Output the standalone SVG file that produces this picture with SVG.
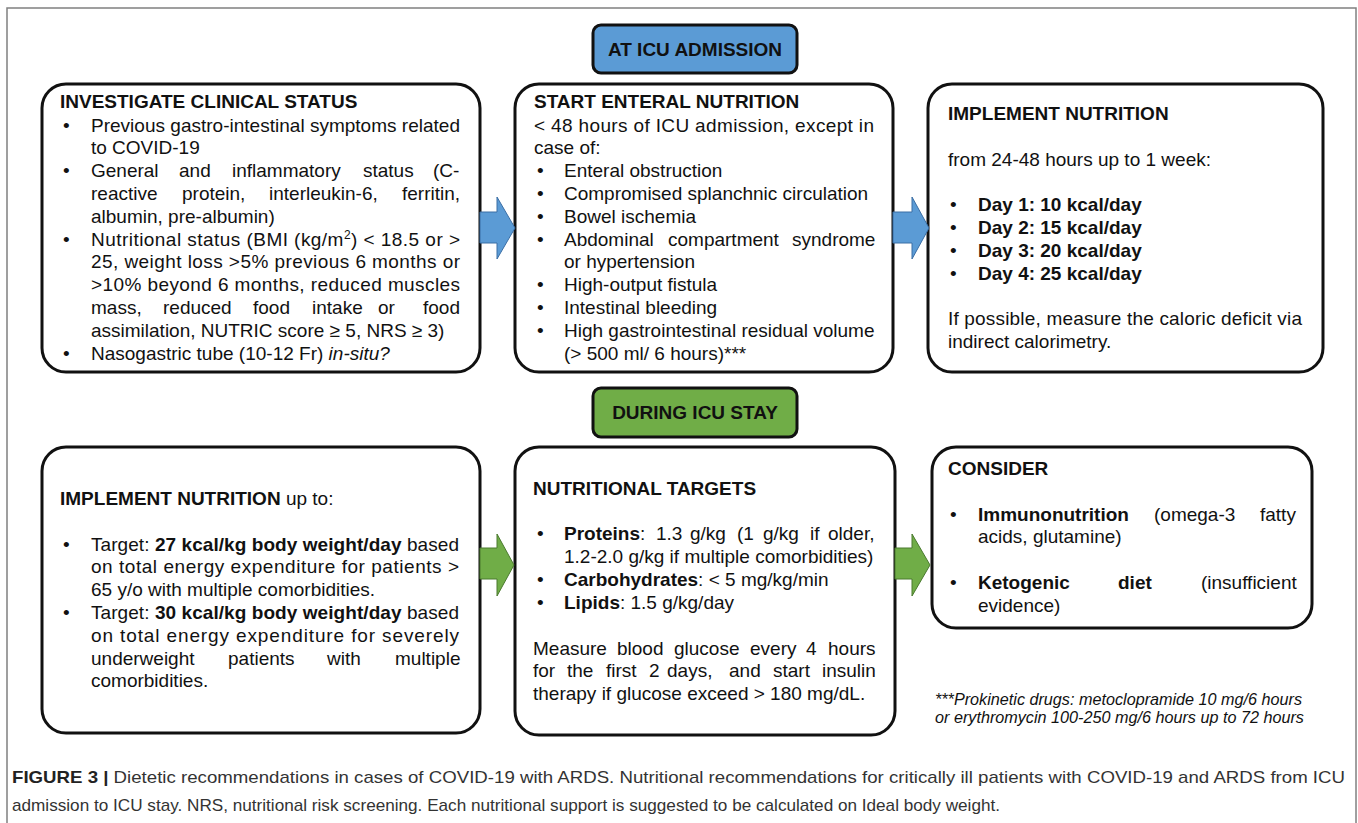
<svg xmlns="http://www.w3.org/2000/svg" width="1358" height="823" viewBox="0 0 1358 823">
<style>
text{font-family:"Liberation Sans",Arial,sans-serif;font-size:19px;fill:#111}
.b{font-weight:bold}
.i{font-style:italic}
.box{fill:#fff;stroke:#111;stroke-width:3}
.tb{fill:#5B9BD5;stroke:#111;stroke-width:3}
.tg{fill:#70AD47;stroke:#111;stroke-width:3}
.ab{fill:#5B9BD5;stroke:#3A6EA5;stroke-width:1}
.ag{fill:#70AD47;stroke:#4A7A2E;stroke-width:1}
.fn{font-size:16.2px;font-style:italic}
.cap{font-size:17px;fill:#333}
</style>
<rect x="7" y="8" width="1349" height="840" fill="none" stroke="#808080" stroke-width="1.5"/>

<g id="title-admission">
<rect class="tb" x="593" y="25" width="204" height="48" rx="8"/>
<text class="b" x="695" y="56" text-anchor="middle">AT ICU ADMISSION</text>
</g>

<g id="box-investigate">
<rect class="box" x="42" y="84" width="438" height="288" rx="24"/>
<text class="b" x="60" y="108">INVESTIGATE CLINICAL STATUS</text>
<text x="63" y="131.5">•</text>
<text x="91" y="131.5" textLength="369" lengthAdjust="spacing">Previous gastro-intestinal symptoms related</text>
<text x="91" y="154.3">to COVID-19</text>
<text x="63" y="177.1">•</text>
<text y="177.1"><tspan x="91">General</tspan><tspan x="179">and</tspan><tspan x="232">inflammatory</tspan><tspan x="363">status</tspan><tspan x="433">(C-</tspan></text>
<text y="199.9"><tspan x="91">reactive</tspan><tspan x="182">protein,</tspan><tspan x="269">interleukin-6,</tspan><tspan x="402">ferritin,</tspan></text>
<text x="91" y="222.7">albumin, pre-albumin)</text>
<text x="63" y="245.5">•</text>
<text x="91" y="245.5" textLength="369" lengthAdjust="spacing">Nutritional status (BMI (kg/m<tspan font-size="12" baseline-shift="super">2</tspan>) &lt; 18.5 or &gt;</text>
<text x="91" y="268.3" textLength="369" lengthAdjust="spacing">25, weight loss &gt;5% previous 6 months or</text>
<text x="91" y="291.1" textLength="369" lengthAdjust="spacing">&gt;10% beyond 6 months, reduced muscles</text>
<text y="313.9"><tspan x="91">mass,</tspan><tspan x="163">reduced</tspan><tspan x="253">food</tspan><tspan x="312">intake</tspan><tspan x="378">or</tspan><tspan x="423">food</tspan></text>
<text x="91" y="336.7">assimilation, NUTRIC score ≥ 5, NRS ≥ 3)</text>
<text x="63" y="359.5">•</text>
<text x="91" y="359.5">Nasogastric tube (10-12 Fr) <tspan class="i">in-situ?</tspan></text>
</g>

<g id="box-enteral">
<rect class="box" x="515" y="84" width="378" height="288" rx="24"/>
<text class="b" x="534" y="108">START ENTERAL NUTRITION</text>
<text x="534" y="131.5" textLength="340" lengthAdjust="spacing">&lt; 48 hours of ICU admission, except in</text>
<text x="534" y="154.3">case of:</text>
<text x="537" y="177.1">•</text><text x="564" y="177.1">Enteral obstruction</text>
<text x="537" y="199.9">•</text><text x="564" y="199.9">Compromised splanchnic circulation</text>
<text x="537" y="222.7">•</text><text x="564" y="222.7">Bowel ischemia</text>
<text x="537" y="245.5">•</text><text y="245.5"><tspan x="564">Abdominal</tspan><tspan x="668">compartment</tspan><tspan x="792">syndrome</tspan></text>
<text x="564" y="268.3">or hypertension</text>
<text x="537" y="291.1">•</text><text x="564" y="291.1">High-output fistula</text>
<text x="537" y="313.9">•</text><text x="564" y="313.9">Intestinal bleeding</text>
<text x="537" y="336.7">•</text><text x="564" y="336.7">High gastrointestinal residual volume</text>
<text x="564" y="359.5">(&gt; 500 ml/ 6 hours)***</text>
</g>

<g id="box-implement-1">
<rect class="box" x="928" y="84" width="395" height="288" rx="24"/>
<text class="b" x="948" y="120">IMPLEMENT NUTRITION</text>
<text x="948" y="165.6">from 24-48 hours up to 1 week:</text>
<text x="950" y="211.2">•</text><text class="b" x="978" y="211.2">Day 1: 10 kcal/day</text>
<text x="950" y="234">•</text><text class="b" x="978" y="234">Day 2: 15 kcal/day</text>
<text x="950" y="256.8">•</text><text class="b" x="978" y="256.8">Day 3: 20 kcal/day</text>
<text x="950" y="279.6">•</text><text class="b" x="978" y="279.6">Day 4: 25 kcal/day</text>
<text x="948" y="325.2" textLength="354" lengthAdjust="spacing">If possible, measure the caloric deficit via</text>
<text x="948" y="348">indirect calorimetry.</text>
</g>

<g id="title-stay">
<rect class="tg" x="593" y="388" width="204" height="49" rx="8"/>
<text class="b" x="695" y="419" text-anchor="middle">DURING ICU STAY</text>
</g>

<g id="box-implement-2">
<rect class="box" x="42" y="447" width="438" height="286" rx="24"/>
<text x="60" y="505"><tspan class="b">IMPLEMENT NUTRITION</tspan> up to:</text>
<text x="63" y="550.6">•</text>
<text x="91" y="550.6" textLength="368" lengthAdjust="spacing">Target: <tspan class="b">27 kcal/kg body weight/day</tspan> based</text>
<text x="91" y="573.4" textLength="368" lengthAdjust="spacing">on total energy expenditure for patients &gt;</text>
<text x="91" y="596.2">65 y/o with multiple comorbidities.</text>
<text x="63" y="619">•</text>
<text x="91" y="619" textLength="368" lengthAdjust="spacing">Target: <tspan class="b">30 kcal/kg body weight/day</tspan> based</text>
<text x="91" y="641.8" textLength="368" lengthAdjust="spacing">on total energy expenditure for severely</text>
<text y="664.6"><tspan x="91">underweight</tspan><tspan x="228">patients</tspan><tspan x="327">with</tspan><tspan x="395">multiple</tspan></text>
<text x="91" y="687.4">comorbidities.</text>
</g>

<g id="box-targets">
<rect class="box" x="515" y="447" width="380" height="288" rx="24"/>
<text class="b" x="533" y="494.5">NUTRITIONAL TARGETS</text>
<text x="537" y="540">•</text>
<text y="540"><tspan x="564" class="b">Proteins</tspan><tspan>:</tspan><tspan x="656">1.3</tspan><tspan x="690">g/kg</tspan><tspan x="737">(1</tspan><tspan x="763">g/kg</tspan><tspan x="810">if</tspan><tspan x="828">older,</tspan></text>
<text x="564" y="563">1.2-2.0 g/kg if multiple comorbidities)</text>
<text x="537" y="586">•</text>
<text x="564" y="586"><tspan class="b">Carbohydrates</tspan>: &lt; 5 mg/kg/min</text>
<text x="537" y="609">•</text>
<text x="564" y="609"><tspan class="b">Lipids</tspan>: 1.5 g/kg/day</text>
<text y="654.5"><tspan x="533">Measure</tspan><tspan x="617">blood</tspan><tspan x="674">glucose</tspan><tspan x="750">every</tspan><tspan x="806">4</tspan><tspan x="828">hours</tspan></text>
<text y="677.3"><tspan x="533">for</tspan><tspan x="567">the</tspan><tspan x="606">first</tspan><tspan x="649">2</tspan><tspan x="667">days,</tspan><tspan x="729">and</tspan><tspan x="773">start</tspan><tspan x="822">insulin</tspan></text>
<text x="533" y="700">therapy if glucose exceed &gt; 180 mg/dL.</text>
</g>

<g id="box-consider">
<rect class="box" x="932" y="447" width="380" height="181" rx="24"/>
<text class="b" x="948" y="475">CONSIDER</text>
<text x="950" y="520.6">•</text>
<text y="520.6"><tspan x="978" class="b">Immunonutrition</tspan><tspan x="1154">(omega-3</tspan><tspan x="1260">fatty</tspan></text>
<text x="978" y="543.4">acids, glutamine)</text>
<text x="950" y="589">•</text>
<text y="589"><tspan x="978" class="b">Ketogenic</tspan><tspan x="1118" class="b">diet</tspan><tspan x="1201">(insufficient</tspan></text>
<text x="978" y="611.8">evidence)</text>
</g>

<g id="connectors">
<polygon class="ab" points="480,212 497,212 497,197 515,228 497,259 497,243 480,243"/>
<polygon class="ab" points="893,212 912,212 912,197 929,228 912,259 912,243 893,243"/>
<polygon class="ag" points="480,548 497,548 497,534 514,565 497,596 497,579 480,579"/>
<polygon class="ag" points="895,548 912,548 912,534 930,565 912,596 912,579 895,579"/>
</g>

<g id="footnote">
<text class="fn" x="935" y="705">***Prokinetic drugs: metoclopramide 10 mg/6 hours</text>
<text class="fn" x="935" y="723.3">or erythromycin 100-250 mg/6 hours up to 72 hours</text>
</g>

<g id="caption">
<text class="cap" x="12" y="783" textLength="1333" lengthAdjust="spacingAndGlyphs"><tspan class="b" fill="#222">FIGURE 3 |</tspan> Dietetic recommendations in cases of COVID-19 with ARDS. Nutritional recommendations for critically ill patients with COVID-19 and ARDS from ICU</text>
<text class="cap" x="12" y="811" textLength="988" lengthAdjust="spacingAndGlyphs">admission to ICU stay. NRS, nutritional risk screening. Each nutritional support is suggested to be calculated on Ideal body weight.</text>
</g>
</svg>
